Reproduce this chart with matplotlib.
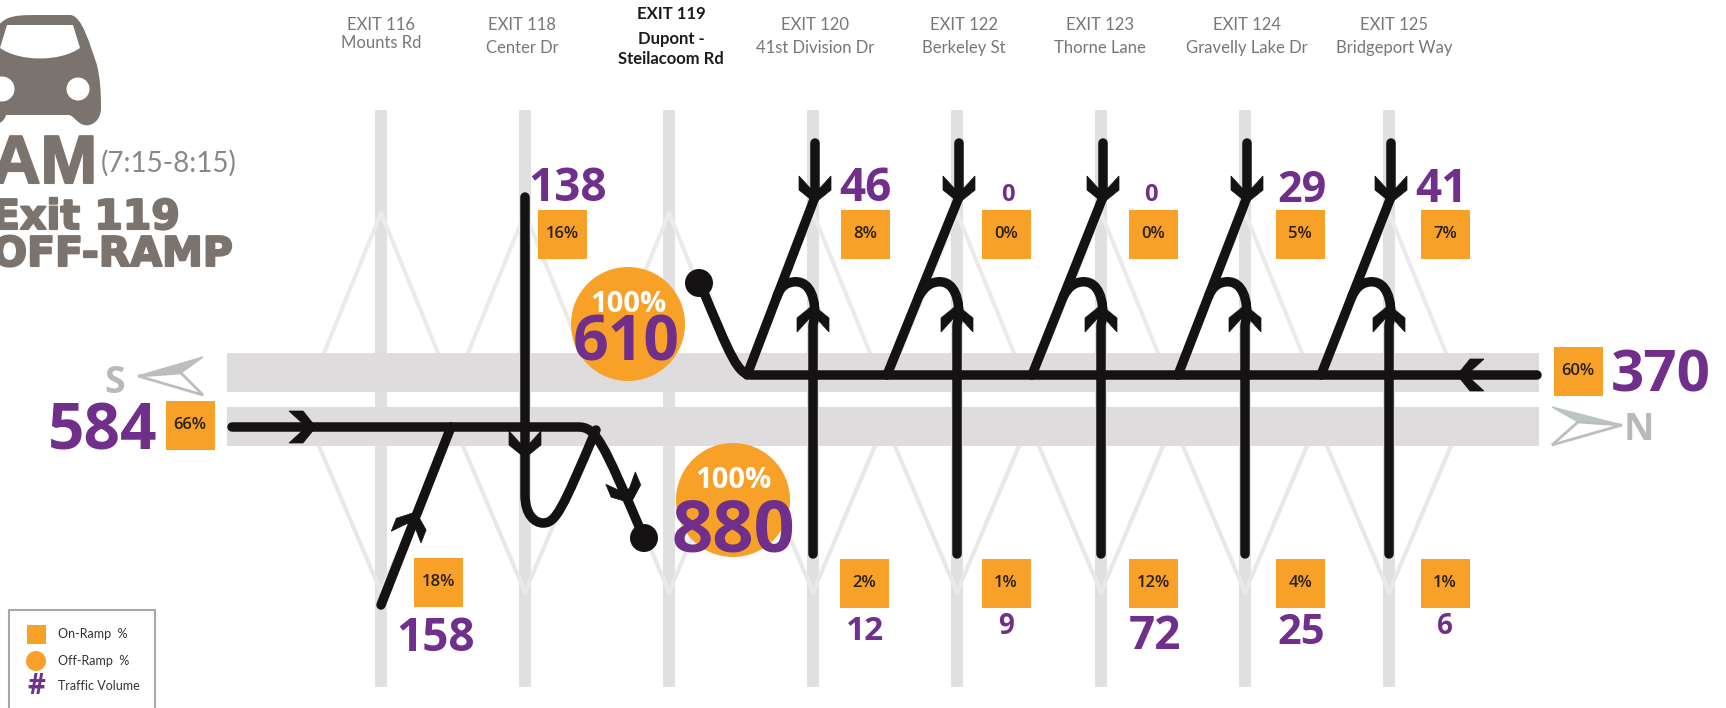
import numpy as np
import matplotlib
matplotlib.use('Agg')
import matplotlib.pyplot as plt
import matplotlib.patheffects as pe
from matplotlib.path import Path
from matplotlib.patches import PathPatch, Polygon, Circle, Rectangle

# exits along the corridor
exit_x = [381, 525, 669, 813, 957, 1101, 1245, 1389]
exit_label_x = [381, 522, 671, 815, 964, 1100, 1247, 1394]
exit_titles = ['EXIT 116', 'EXIT 118', 'EXIT 119', 'EXIT 120', 'EXIT 122', 'EXIT 123', 'EXIT 124', 'EXIT 125']
exit_roads = ['Mounts Rd', 'Center Dr', 'Dupont -\nSteilacoom Rd', '41st Division Dr', 'Berkeley St',
              'Thorne Lane', 'Gravelly Lake Dr', 'Bridgeport Way']

# northbound exits: off-ramp on top, on-ramp at the bottom
north_x = [813, 957, 1101, 1245, 1389]
north_merge_x = [747, 887, 1032, 1178, 1321]
top_volumes = [46, 0, 0, 29, 41]
top_pct = [8, 0, 0, 5, 7]
top_sizes = [33, 17, 17, 31, 33]
top_num_x = [865, 1008, 1151, 1302, 1441]
top_num_y = [185, 193, 193, 187, 186]
top_box_x = [865, 1006, 1153, 1300, 1445]
bottom_volumes = [12, 9, 72, 25, 6]
bottom_pct = [2, 1, 12, 4, 1]
bottom_sizes = [24, 20, 33, 30, 20]
bottom_num_x = [865, 1006, 1155, 1301, 1445]
bottom_num_y = [629, 624, 633, 630, 624]

sb_volume, sb_pct = 584, 66
nb_volume, nb_pct = 370, 60
ramp_118_volume, ramp_118_pct = 138, 16
ramp_116_volume, ramp_116_pct = 158, 18
off_nb_volume, off_sb_volume = 610, 880
off_pct = 100

legend_labels = ['On-Ramp  %', 'Off-Ramp  %', 'Traffic Volume']

ORANGE = '#f7a128'
PURPLE = '#702f8a'
BLACK = '#141212'
ROAD = '#dedcdc'
BROWN = '#7b736e'
LW = 9.5 * 0.72

fig = plt.figure(figsize=(17.26, 7.08), dpi=100)
ax = fig.add_axes([0, 0, 1, 1])
ax.set_xlim(0, 1726)
ax.set_ylim(708, 0)
ax.axis('off')


def line(verts, codes=None):
    if codes is None:
        codes = [Path.MOVETO] + [Path.LINETO] * (len(verts) - 1)
    ax.add_patch(PathPatch(Path(verts, codes), fill=False, ec=BLACK, lw=LW, capstyle='round',
                           joinstyle='round', zorder=6))


def head(x, y, dx, dy):
    # barbed arrow head, tip at x,y
    d = np.array([dx, dy], float)
    d = d / np.hypot(dx, dy)
    n = np.array([-d[1], d[0]])
    tip = np.array([x, y])
    pts = [tip, tip - 13 * d + 16 * n, tip - 27 * d + 16 * n, tip - 14 * d + 4 * n,
           tip - 14 * d - 4 * n, tip - 27 * d - 16 * n, tip - 13 * d - 16 * n]
    ax.add_patch(Polygon(pts, closed=True, fc=BLACK, ec=BLACK, lw=0.5, zorder=7))


def box(cx, cy, pct):
    ax.add_patch(Rectangle((cx - 24.5, cy - 24.5), 49, 49, fc=ORANGE, ec='none', zorder=3))
    ax.text(cx, cy, f'{pct}%', ha='center', va='center', fontsize=12, fontweight=600,
            family='Open Sans', color='#2a2118', zorder=4)


def num(x, y, value, size):
    ax.text(x, y + size * 0.11, str(value), ha='center', va='center', fontsize=size, fontweight='bold',
            family='Open Sans', color=PURPLE, zorder=5)


# grey road background
for x in exit_x:
    ax.add_patch(Rectangle((x - 6, 110), 12, 577, fc='#e1e0e0', ec='none', zorder=1))
    for s in (-1, 1):
        ax.plot([x, x + s * 57], [213, 353], color='#ebebeb', lw=3, zorder=1)
        ax.plot([x + s * 62, x], [446, 592], color='#e8e8e8', lw=3, zorder=1)
ax.add_patch(Rectangle((227, 353), 1312, 39, fc=ROAD, ec='none', zorder=2))
ax.add_patch(Rectangle((227, 407), 1312, 39, fc=ROAD, ec='none', zorder=2))

# exit names
for i, x in enumerate(exit_label_x):
    if i == 2:
        ax.text(x, 14, exit_titles[i], ha='center', va='center', fontsize=12, fontweight='bold',
                family='Lato', color='#1c1c1c')
        ax.text(x, 49, exit_roads[i], ha='center', va='center', fontsize=12, fontweight='bold',
                family='Lato', color='#1c1c1c', linespacing=1.25)
    else:
        y2 = 43 if i == 0 else 48
        ax.text(x, 25, exit_titles[i], ha='center', va='center', fontsize=12, family='Lato', color='#777777')
        ax.text(x, y2, exit_roads[i], ha='center', va='center', fontsize=12, family='Lato', color='#777777')

# off-ramp circles
for cx, cy, vol, size, dy, tx in [(628, 324, off_nb_volume, 45, 20, 626), (733, 500, off_sb_volume, 52, 32, 733)]:
    ax.add_patch(Circle((cx, cy), 57, fc=ORANGE, ec='none', zorder=3))
    ax.text(cx, cy - 20, f'{off_pct}%', ha='center', va='center', fontsize=21, fontweight='bold',
            family='Open Sans', color='white', zorder=5)
    ax.text(tx, cy + dy, str(vol), ha='center', va='center', fontsize=size, fontweight='bold',
            family='Open Sans', color=PURPLE, zorder=5)

# northbound main line and off-ramp to the dot
line([(1537, 375), (752, 375), (738, 375), (731, 358), (700, 283)],
     [Path.MOVETO, Path.LINETO, Path.CURVE4, Path.CURVE4, Path.CURVE4])
head(1457, 375, -1, 0)
ax.add_patch(Circle((699, 283), 14, fc=BLACK, ec='none', zorder=7))

# northbound ramps
for x, mx in zip(north_x, north_merge_x):
    line([(x + 2, 143), (x + 2, 197), (mx, 375)])
    head(x + 2, 203, 0, 1)
    ym = 296
    xm = mx + (x + 2 - mx) * (375 - ym) / (375 - 197)
    line([(x, 554), (x, 325), (x + 2, 315), (x + 2, 290), (x - 8, 280), (x - 20, 282), (x - 28, 283), (x - 33, 288), (xm, ym)],
         [Path.MOVETO, Path.LINETO, Path.LINETO, Path.CURVE4, Path.CURVE4, Path.CURVE4, Path.CURVE4, Path.CURVE4, Path.CURVE4])
    head(x, 305, 0, -1)

# southbound main line, off-ramp to the dot
line([(232, 427), (578, 427), (596, 427), (602, 440), (644, 538)],
     [Path.MOVETO, Path.LINETO, Path.CURVE4, Path.CURVE4, Path.CURVE4])
head(316, 427, 1, 0)
head(631, 503, 39, 93)
ax.add_patch(Circle((644, 538), 14, fc=BLACK, ec='none', zorder=7))

# exit 116 on-ramp
line([(381, 605), (451, 427)])
head(416, 512, 70, -178)

# exit 118 off-ramp with the U turn back
line([(525, 197), (525, 495), (525, 515), (535, 523), (543, 523), (556, 523), (562, 510), (596, 430)],
     [Path.MOVETO, Path.LINETO, Path.CURVE4, Path.CURVE4, Path.CURVE4, Path.CURVE4, Path.CURVE4, Path.CURVE4])
head(525, 458, 0, 1)

# orange boxes and volumes
for i in range(5):
    box(top_box_x[i], 234, top_pct[i])
    num(top_num_x[i], top_num_y[i], top_volumes[i], top_sizes[i])
    box(top_box_x[i] - 1 if i == 0 else top_box_x[i], 583, bottom_pct[i])
    num(bottom_num_x[i], bottom_num_y[i], bottom_volumes[i], bottom_sizes[i])

box(562, 234, ramp_118_pct)
num(568, 185, ramp_118_volume, 33)
box(438, 582, ramp_116_pct)
num(436, 635, ramp_116_volume, 33)
box(190, 425, sb_pct)
num(103, 428, sb_volume, 46)
box(1578, 371, nb_pct)
num(1661, 372, nb_volume, 42)

# compass marks
ax.text(115, 383, 'S', ha='center', va='center', fontsize=27, fontweight='bold', family='Open Sans', color='#b9b9b9')
ax.add_patch(Polygon([(138, 376), (203, 357), (181, 373)], fc='#bdbdbd', ec='#bdbdbd', lw=1))
ax.add_patch(Polygon([(138, 376), (181, 373), (203, 395)], fc='white', ec='#bdbdbd', lw=2))
ax.text(1639, 430, 'N', ha='center', va='center', fontsize=27, fontweight='bold', family='Open Sans', color='#b9b9b9')
ax.add_patch(Polygon([(1622, 425), (1552, 407), (1578, 422)], fc='#bdc4c6', ec='#bdc4c6', lw=1))
ax.add_patch(Polygon([(1622, 425), (1578, 422), (1552, 445)], fc='white', ec='#bdbdbd', lw=2))

# car icon, mirrored around x=40 and cut by the left edge
car = [(40, 15), (70, 15), (82, 15), (90, 45), (97, 65), (100, 78), (101, 90), (101, 108),
       (101, 120), (92, 127), (84, 125), (76, 123), (74, 115), (68, 115), (40, 115)]
car_codes = [Path.MOVETO, Path.LINETO, Path.CURVE4, Path.CURVE4, Path.CURVE4, Path.CURVE4, Path.CURVE4, Path.LINETO,
             Path.CURVE4, Path.CURVE4, Path.CURVE4, Path.CURVE4, Path.CURVE4, Path.LINETO, Path.LINETO]
car_left = [(80 - a, b) for a, b in car[-2::-1]]
car_left_codes = car_codes[-1:0:-1]
ax.add_patch(PathPatch(Path(car + car_left, car_codes + car_left_codes), fc=BROWN, ec='none', zorder=2))
shield = [(7, 25), (73, 25), (80, 48), (60, 62), (20, 62), (0, 48), (7, 25)]
ax.add_patch(PathPatch(Path(shield, [Path.MOVETO, Path.LINETO, Path.LINETO, Path.CURVE4, Path.CURVE4, Path.CURVE4, Path.LINETO]),
                       fc='white', ec='none', zorder=3))
ax.add_patch(Circle((78, 89), 11.5, fc='white', ec='none', zorder=3))
ax.add_patch(Circle((2, 89), 12.5, fc='white', ec='none', zorder=3))

# title block, stroked a little because the original face is heavier
heavy = [pe.withStroke(linewidth=1.5, foreground=BROWN)]
ax.text(97, 165, 'AM', ha='right', va='center', fontsize=49, fontweight='bold', family='Liberation Sans', color=BROWN,
        path_effects=heavy)
ax.text(101, 163, '(7:15-8:15)', ha='left', va='center', fontsize=20, family='Lato', color='#8a8784')
ax.text(180, 218, 'Exit 119', ha='right', va='center', fontsize=29.5, fontweight='bold', family='DejaVu Sans',
        color=BROWN, path_effects=heavy)
ax.text(233, 255, 'OFF-RAMP', ha='right', va='center', fontsize=29.5, fontweight='bold', family='DejaVu Sans',
        color=BROWN, path_effects=heavy)

# legend, bottom of the box runs off the picture
ax.add_patch(Rectangle((9, 610), 146, 120, fc='white', ec='#a8a8a8', lw=1.5, zorder=2))
ax.add_patch(Rectangle((27, 625), 19, 19, fc=ORANGE, ec='none', zorder=3))
ax.add_patch(Circle((36, 661), 10, fc=ORANGE, ec='none', zorder=3))
ax.text(36, 687, '#', ha='center', va='center', fontsize=20, fontweight='bold', family='Open Sans', color=PURPLE, zorder=3)
for label, y in zip(legend_labels, [634, 661, 686]):
    ax.text(58, y, label, ha='left', va='center', fontsize=9, family='Lato', color='#333333', zorder=3)

fig.savefig('out.png', dpi=100, facecolor='white')
